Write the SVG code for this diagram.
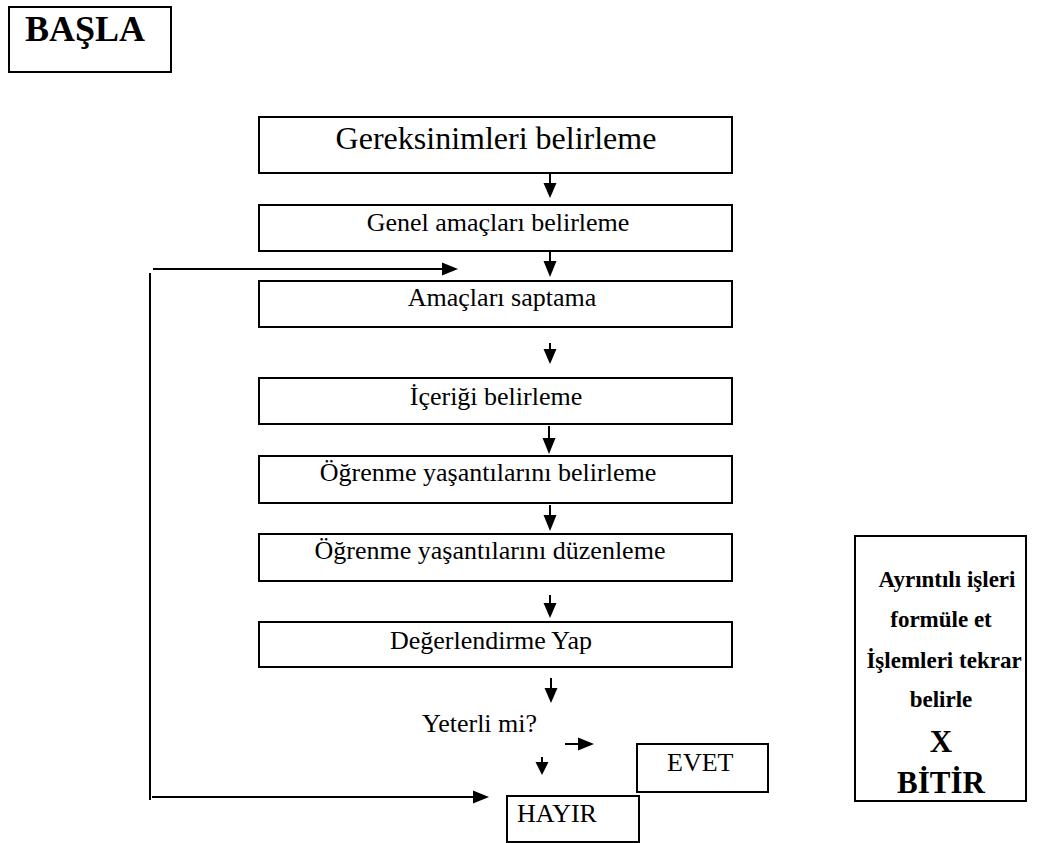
<svg xmlns="http://www.w3.org/2000/svg" width="1044" height="843" viewBox="0 0 1044 843">
  <style>
    .box { fill: #ffffff; stroke: #000000; stroke-width: 2; }
    .line { fill: none; stroke: #000000; stroke-width: 2; }
    .head { fill: #000000; stroke: none; }
    .t { font-family: "Liberation Serif", "Times New Roman", serif; fill: #000000; }
    .lbl { font-size: 26px; text-anchor: middle; }
    .big { font-size: 32px; text-anchor: middle; }
    .side { font-size: 23px; font-weight: bold; text-anchor: middle; }
    .end { font-size: 31px; font-weight: bold; text-anchor: middle; }
  </style>
  <rect width="1044" height="843" fill="#ffffff"/>

  <g id="basla">
    <rect class="box" x="9" y="7" width="162" height="65"/>
    <text class="t" x="85" y="41" font-size="36" font-weight="bold" text-anchor="middle">BAŞLA</text>
  </g>

  <g id="gereksinimler">
    <rect class="box" x="259" y="117" width="473" height="56"/>
    <text class="t big" x="496" y="149">Gereksinimleri belirleme</text>
  </g>

  <g id="genel-amaclar">
    <rect class="box" x="259" y="205" width="473" height="46"/>
    <text class="t lbl" x="498" y="231">Genel amaçları belirleme</text>
  </g>

  <g id="amaclar">
    <rect class="box" x="259" y="281" width="473" height="46"/>
    <text class="t lbl" x="502" y="306">Amaçları saptama</text>
  </g>

  <g id="icerik">
    <rect class="box" x="259" y="378" width="473" height="46"/>
    <text class="t lbl" x="496" y="405">İçeriği belirleme</text>
  </g>

  <g id="yasanti-belirleme">
    <rect class="box" x="259" y="456" width="473" height="47"/>
    <text class="t lbl" x="488" y="481">Öğrenme yaşantılarını belirleme</text>
  </g>

  <g id="yasanti-duzenleme">
    <rect class="box" x="259" y="534" width="473" height="47"/>
    <text class="t lbl" x="490" y="559">Öğrenme yaşantılarını düzenleme</text>
  </g>

  <g id="degerlendirme">
    <rect class="box" x="259" y="622" width="473" height="45"/>
    <text class="t lbl" x="491" y="649">Değerlendirme Yap</text>
  </g>

  <g id="yeterli">
    <text class="t" x="422" y="732" font-size="26">Yeterli mi?</text>
  </g>

  <g id="evet">
    <rect class="box" x="637" y="744" width="131" height="48"/>
    <text class="t" x="667" y="771" font-size="26">EVET</text>
  </g>

  <g id="hayir">
    <rect class="box" x="507" y="796" width="132" height="46"/>
    <text class="t" x="517" y="822" font-size="26">HAYIR</text>
  </g>

  <g id="bitir">
    <rect class="box" x="855" y="536" width="171" height="265"/>
    <text class="t side" x="947" y="587">Ayrıntılı işleri</text>
    <text class="t side" x="941" y="627">formüle et</text>
    <text class="t side" x="944" y="668">İşlemleri tekrar</text>
    <text class="t side" x="941" y="707">belirle</text>
    <text class="t end" x="941" y="752">X</text>
    <text class="t end" x="941" y="793">BİTİR</text>
  </g>

  <g id="connectors">
    <!-- downward flow arrows -->
    <line class="line" x1="550" y1="174" x2="550" y2="184"/>
    <polygon class="head" points="543.5,183 556.5,183 550,198"/>
    <line class="line" x1="550" y1="252" x2="550" y2="262"/>
    <polygon class="head" points="543.5,261 556.5,261 550,277"/>
    <line class="line" x1="550" y1="343" x2="550" y2="350"/>
    <polygon class="head" points="543.5,349 556.5,349 550,364"/>
    <line class="line" x1="549" y1="426" x2="549" y2="439"/>
    <polygon class="head" points="542.5,438 555.5,438 549,454"/>
    <line class="line" x1="550" y1="505" x2="550" y2="516"/>
    <polygon class="head" points="543.5,515 556.5,515 550,531"/>
    <line class="line" x1="550" y1="595" x2="550" y2="604"/>
    <polygon class="head" points="543.5,603 556.5,603 550,618"/>
    <line class="line" x1="551" y1="678" x2="551" y2="689"/>
    <polygon class="head" points="544.5,688 557.5,688 551,703"/>
    <!-- decision arrows -->
    <line class="line" x1="542" y1="757" x2="542" y2="763"/>
    <polygon class="head" points="535.5,762 548.5,762 542,775"/>
    <line class="line" x1="565" y1="744" x2="579" y2="744"/>
    <polygon class="head" points="578,737.5 578,750.5 594,744"/>
    <!-- return loop -->
    <line class="line" x1="150" y1="273" x2="150" y2="800"/>
    <line class="line" x1="153" y1="269" x2="443" y2="269"/>
    <polygon class="head" points="442,262.5 442,275.5 458,269"/>
    <line class="line" x1="152" y1="797" x2="474" y2="797"/>
    <polygon class="head" points="473,790.5 473,803.5 489,797"/>
  </g>
</svg>
